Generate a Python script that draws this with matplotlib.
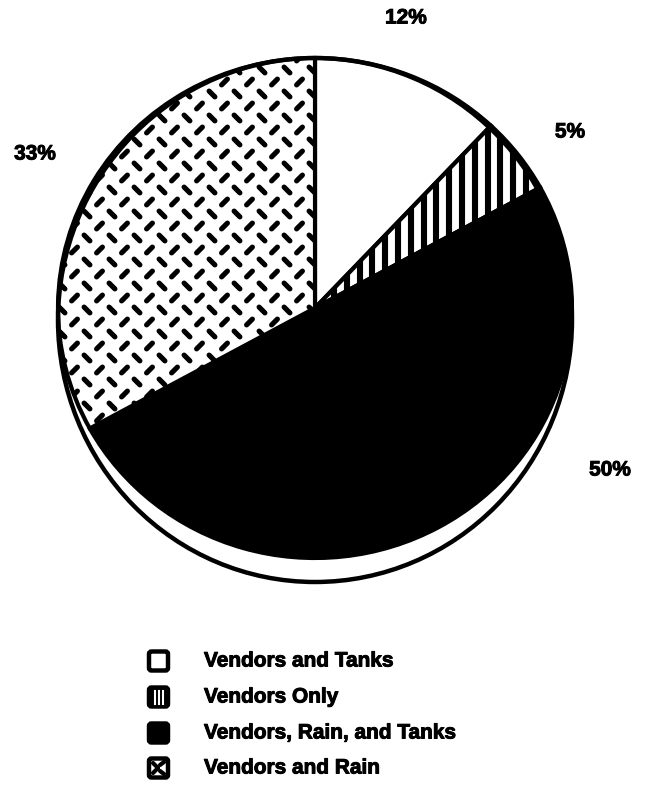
import numpy as np
import matplotlib.pyplot as plt
import matplotlib.patheffects as pe
from matplotlib.patches import Ellipse, FancyBboxPatch
from matplotlib.collections import LineCollection

# water source shares
categories = ['Vendors and Tanks', 'Vendors Only', 'Vendors, Rain, and Tanks', 'Vendors and Rain']
shares = [12, 5, 50, 33]
pct_labels = ['12%', '5%', '50%', '33%']
label_xy = [(406, 19), (570, 133), (610, 471), (35, 155)]

plt.rcParams['font.family'] = ['Liberation Sans', 'DejaVu Sans']
heavy = [pe.withStroke(linewidth=0.7, foreground='black')]

W, H = 649, 804
fig = plt.figure(figsize=(W / 100, H / 100), dpi=100)

# pie sits in its own axes so it can be slightly squashed
L, R, T, B = 58, 572, 59, 559
pad = 1.03
cx, cy = (L + R) / 2, (T + B) / 2
rx, ry = (R - L) / 2, (B - T) / 2
ax = fig.add_axes([(cx - rx * pad) / W, 1 - (cy + ry * pad) / H,
                   2 * rx * pad / W, 2 * ry * pad / H])
wedges, _ = ax.pie(shares, colors=['white', 'white', 'black', 'white'],
                   startangle=90, counterclock=False, radius=1,
                   wedgeprops=dict(edgecolor='black', linewidth=3))
ax.set_xlim(-pad, pad)
ax.set_ylim(-pad, pad)
ax.set_aspect('auto')
ax.axis('off')

# overlay in pixel units, y pointing down
px = fig.add_axes([0, 0, 1, 1])
px.set_xlim(0, W)
px.set_ylim(H, 0)
px.axis('off')

# vertical stripes for "Vendors Only"
xs = np.arange(346.7 - 12.8 * 30, 700, 12.8)
stripes = LineCollection([[(x, 0), (x, H)] for x in xs], colors='black',
                         linewidths=4.4, capstyle='butt')
px.add_collection(stripes)
stripes.set_clip_path(wedges[1])

# diamond-plate dashes for "Vendors and Rain"
segs = []
d = 2.9
for j in range(-20, 45):
    y = 143 + 12 * j
    off = 12.5 * (j % 2)
    for i in range(-12, 20):
        x = 162 + off + 25 * i
        if j % 2 == 0:
            segs.append([(x - d, y - d), (x + d, y + d)])
        else:
            segs.append([(x - d, y + d), (x + d, y - d)])
dashes = LineCollection(segs, colors='black', linewidths=3.7, capstyle='round')
px.add_collection(dashes)
dashes.set_clip_path(wedges[3])

# outer rim
px.add_patch(Ellipse((315, 321), 514, 524, fill=False, edgecolor='black', lw=3.2))

for txt, (x, y) in zip(pct_labels, label_xy):
    px.text(x, y, txt, fontsize=15, fontweight='bold', ha='center', va='center',
            path_effects=heavy)

# legend
rows = [662, 698, 734, 769]
bx, bs = 149, 19
for k, (name, y) in enumerate(zip(categories, rows)):
    fc = 'black' if k in (1, 2) else 'white'
    px.add_patch(FancyBboxPatch((bx, y - bs / 2), bs, bs,
                                boxstyle='round,pad=0,rounding_size=2.5',
                                facecolor=fc, edgecolor='black', lw=3.2))
    if k == 1:
        for sx in (bx + 5.5, bx + 9.5, bx + 13.5):
            px.plot([sx, sx], [y - bs / 2 + 3, y + bs / 2 - 3], color='white', lw=1.5)
    if k == 3:
        px.plot([bx + 4, bx + 9], [y - 5, y], color='black', lw=3, solid_capstyle='round')
        px.plot([bx + 4, bx + 9], [y + 5, y], color='black', lw=3, solid_capstyle='round')
        px.plot([bx + 11, bx + 15], [y - 3, y - 6], color='black', lw=3, solid_capstyle='round')
        px.plot([bx + 11, bx + 15], [y + 3, y + 6], color='black', lw=3, solid_capstyle='round')
    px.text(bx + 55, y, name, fontsize=15, fontweight='bold', ha='left', va='center',
            path_effects=heavy)

fig.savefig('out.png', dpi=100)
